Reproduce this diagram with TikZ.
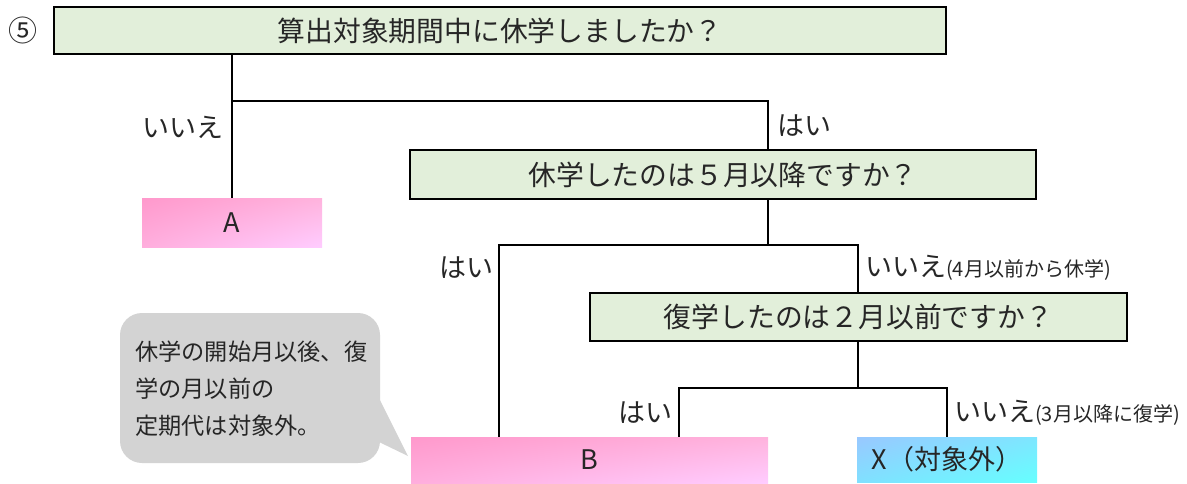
\documentclass[tikz,border=0pt]{standalone}
\usepackage{fontspec}
\setmainfont{Noto Sans CJK JP}
\usetikzlibrary{shadings}
\definecolor{qgreen}{HTML}{E2EFDA}
\definecolor{txt}{HTML}{262626}
\definecolor{pinkA}{HTML}{FF99CC}
\definecolor{pinkB}{HTML}{FFB3DD}
\definecolor{pinkC}{HTML}{FFAEDD}
\definecolor{pinkD}{HTML}{FFCCFF}
\definecolor{blueA}{HTML}{99C8FF}
\definecolor{blueB}{HTML}{7EE6FF}
\definecolor{blueC}{HTML}{80E0FF}
\definecolor{blueD}{HTML}{66FFFF}
\definecolor{callgray}{HTML}{D3D3D3}
\tikzset{
  qbox/.style={draw=black, line width=2.6pt, fill=qgreen, inner sep=0pt, text=txt,
    font=\fontsize{27.8}{30}\selectfont},
  pinkbox/.style={draw=none, inner sep=0pt, text=txt,
    upper left=pinkA, upper right=pinkB, lower left=pinkC, lower right=pinkD,
    font=\fontsize{27}{30}\selectfont},
  bluebox/.style={draw=none, inner sep=0pt, text=txt,
    upper left=blueA, upper right=blueB, lower left=blueC, lower right=blueD,
    font=\fontsize{27}{30}\selectfont},
  conn/.style={draw=black, line width=2.6pt},
  lbl/.style={inner sep=0pt, text=txt, font=\fontsize{27}{30}\selectfont},
  calltxt/.style={inner sep=0pt, text=txt, anchor=west, font=\fontsize{23.2}{26}\selectfont}
}
\begin{document}
\begin{tikzpicture}[x=1pt,y=-1pt]
\useasboundingbox (0,0) rectangle (1187,483);
% callout
\fill[callgray, rounded corners=22pt] (120,313) rectangle (380,463);
\fill[callgray] (379,398) -- (408,456) -- (379,442) -- cycle;
\node[calltxt] (c1) at (135,352) {休学の開始月以後、復};
\node[calltxt] (c2) at (135,389) {学の月以前の};
\node[calltxt] (c3) at (135,426) {定期代は対象外。};
% circled number
\node[lbl, font=\fontsize{29}{30}\selectfont] (num) at (23,30) {⑤};
% boxes
\node[qbox, minimum width=892pt, minimum height=47pt] (q1) at (500,30.5) {算出対象期間中に休学しましたか？};
\node[qbox, minimum width=626pt, minimum height=49pt] (q2) at (723,174.5) {休学したのは５月以降ですか？};
\node[qbox, minimum width=537pt, minimum height=48pt] (q3) at (858.5,317) {復学したのは２月以前ですか？};
\node[pinkbox, minimum width=180pt, minimum height=49pt] (A) at (232,222.5) {A};
\node[pinkbox, minimum width=357pt, minimum height=46pt] (B) at (589.5,460) {B};
\node[bluebox, minimum width=180pt, minimum height=45pt] (X) at (947,459.5) {X（対象外）};
% junction coordinates
\coordinate (j1) at (232,101);
\coordinate (j1r) at (768,101);
\coordinate (j2) at (768,245);
\coordinate (j2l) at (499,245);
\coordinate (j2r) at (858,245);
\coordinate (j3) at (858,388);
\coordinate (j3l) at (679,388);
\coordinate (j3r) at (947,388);
% connectors
\draw[conn] (q1.south -| A.north) -- (A.north);
\draw[conn] (j1) -- (j1r) -- (q2.north -| j1r);
\draw[conn] (q2.south -| j2) -- (j2);
\draw[conn] (j2l |- B.north) -- (j2l) -- (j2r) -- (q3.north -| j2r);
\draw[conn] (q3.south -| j3) -- (j3);
\draw[conn] (j3l |- B.north) -- (j3l) -- (j3r) -- (X.north -| j3r);
% labels
\node[lbl, anchor=east] (l1) at (224,127) {いいえ};
\node[lbl, anchor=west] (l2) at (777,126) {はい};
\node[lbl, anchor=east] (l3) at (494,268) {はい};
\node[lbl, anchor=west] (l4) at (865,268) {いいえ{\fontsize{20}{22}\selectfont(4月以前から休学)}};
\node[lbl, anchor=east] (l5) at (673,413) {はい};
\node[lbl, anchor=west] (l6) at (954,413) {いいえ{\fontsize{20}{22}\selectfont(3月以降に復学)}};
\end{tikzpicture}
\end{document}
